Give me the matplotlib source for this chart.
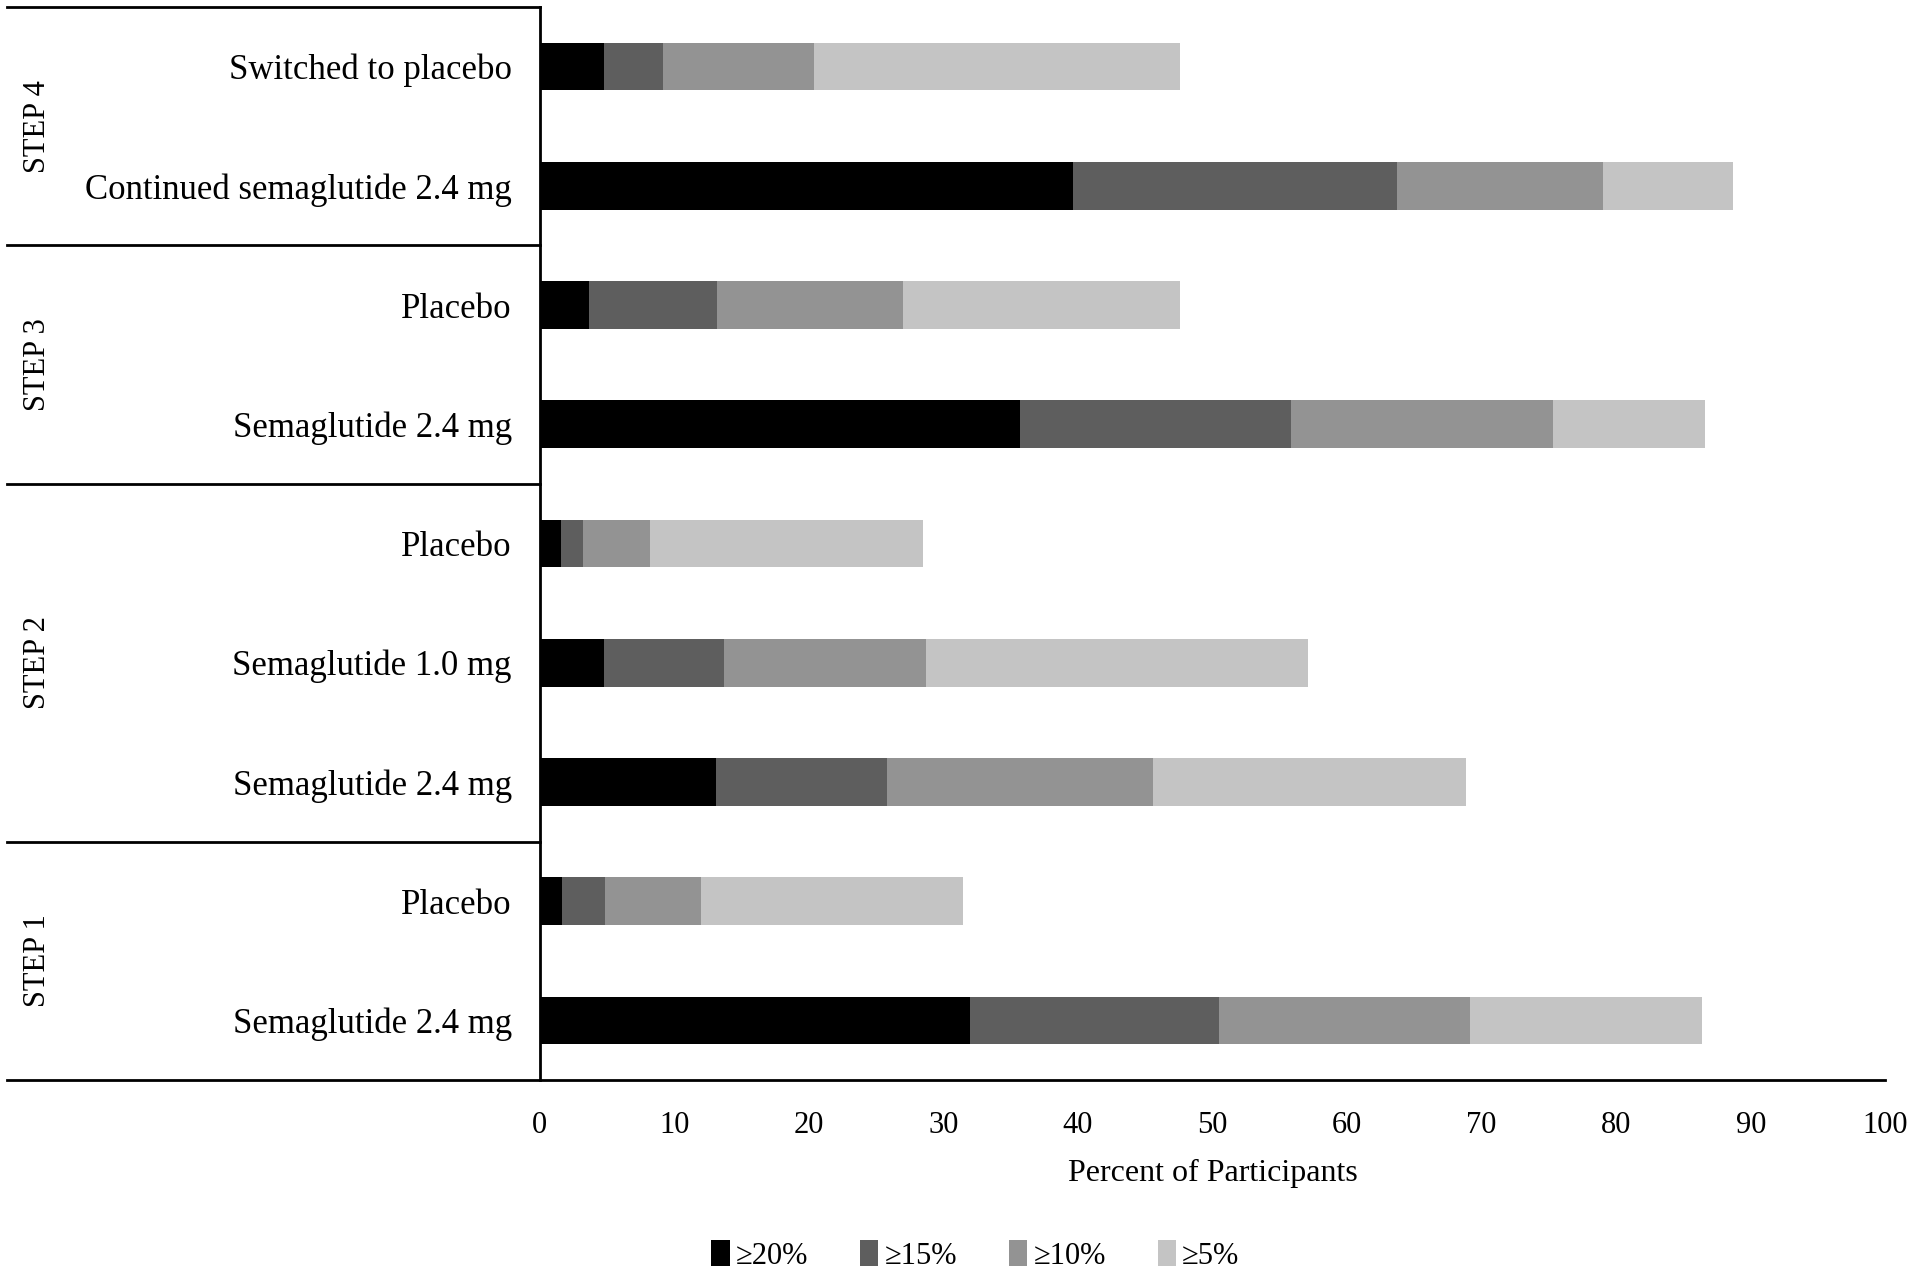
import matplotlib
matplotlib.use('Agg')
import matplotlib.pyplot as plt
import numpy as np

# rows, top to bottom
arms = ['Switched to placebo', 'Continued semaglutide 2.4 mg',
        'Placebo', 'Semaglutide 2.4 mg',
        'Placebo', 'Semaglutide 1.0 mg', 'Semaglutide 2.4 mg',
        'Placebo', 'Semaglutide 2.4 mg']
groups = ['STEP 4', 'STEP 3', 'STEP 2', 'STEP 1']
group_sizes = [2, 2, 3, 2]

# percent of participants reaching each weight-loss threshold
loss_5 = [47.6, 88.7, 47.6, 86.6, 28.5, 57.1, 68.8, 31.5, 86.4]
loss_10 = [20.4, 79.0, 27.0, 75.3, 8.2, 28.7, 45.6, 12.0, 69.1]
loss_15 = [9.2, 63.7, 13.2, 55.8, 3.2, 13.7, 25.8, 4.9, 50.5]
loss_20 = [4.8, 39.6, 3.7, 35.7, 1.6, 4.8, 13.1, 1.7, 32.0]

series_labels = ['≥20%', '≥15%', '≥10%', '≥5%']
x_ticks = list(range(0, 101, 10))

plt.rcParams['font.family'] = ['Liberation Serif', 'DejaVu Serif']

fig = plt.figure(figsize=(19.2, 12.76), dpi=100)
ax = fig.add_axes([0.281, 0.1536, 0.701, 0.8409])

y = np.arange(len(arms))
h = 0.4
# bars overlap from zero, widest (>=5%) at the back
b5 = ax.barh(y, loss_5, height=h, color='#c4c4c4')
b10 = ax.barh(y, loss_10, height=h, color='#939393')
b15 = ax.barh(y, loss_15, height=h, color='#5e5e5e')
b20 = ax.barh(y, loss_20, height=h, color='#000000')

ax.set_ylim(len(arms) - 0.5, -0.5)
ax.set_xlim(0, 100)
ax.set_yticks(y)
ax.set_yticklabels(arms, fontsize=25)
ax.set_xticks(x_ticks)
ax.set_xticklabels([str(t) for t in x_ticks], fontsize=22)
ax.tick_params(axis='y', length=0, pad=20)
ax.tick_params(axis='x', length=0, pad=22)
ax.set_xlabel('Percent of Participants', fontsize=23, labelpad=14)

for s in ['top', 'right', 'bottom']:
    ax.spines[s].set_visible(False)
ax.spines['left'].set_linewidth(2)
ax.spines['left'].set_color('black')

# table-like lines on the left side
tr = ax.get_yaxis_transform()
x_left = -0.396
ax.plot([x_left, 0], [-0.5, -0.5], transform=tr, color='black', lw=2, clip_on=False)
ax.plot([x_left, 1], [len(arms) - 0.5, len(arms) - 0.5], transform=tr,
        color='black', lw=2, clip_on=False)

start = 0
for name, n in zip(groups, group_sizes):
    end = start + n
    if end < len(arms):
        ax.plot([x_left, 0], [end - 0.5, end - 0.5], transform=tr,
                color='black', lw=2, clip_on=False)
    mid = (start + end - 1) / 2
    ax.text(-0.373, mid, name, transform=tr, rotation=90, fontsize=22,
            ha='center', va='center')
    start = end

fig.legend([b20, b15, b10, b5], series_labels, loc='center', ncol=4,
           bbox_to_anchor=(0.508, 0.016), frameon=False, fontsize=22,
           handlelength=0.6, handleheight=0.9, handletextpad=0.2,
           columnspacing=1.7)

fig.savefig('out.png', dpi=100)
